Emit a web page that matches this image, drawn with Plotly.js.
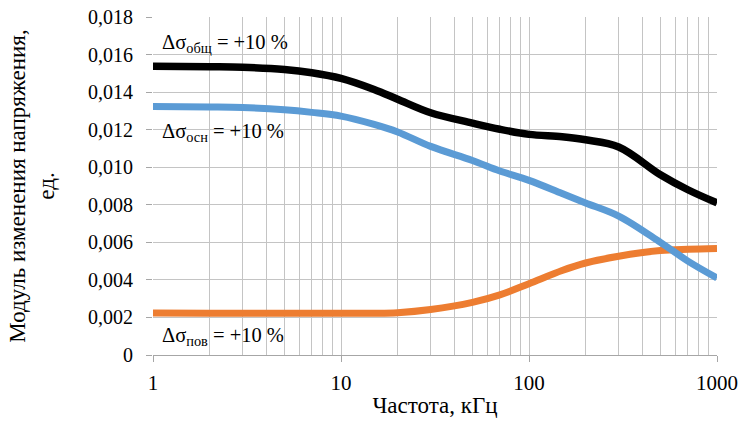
<!DOCTYPE html>
<html>
<head>
<meta charset="utf-8">
<script src="https://cdn.plot.ly/plotly-3.0.1.min.js"></script>
<style>html,body{margin:0;padding:0;background:#fff;}#chart{width:743px;height:421px;}</style>
</head>
<body>
<div id="chart"></div>
<script>
var freq = [1, 2, 3, 5, 7, 10, 15, 20, 30, 50, 70, 100, 150, 200, 300, 500, 700, 1000];
var sigmaTotal = [0.01538, 0.01535, 0.01532, 0.0152, 0.01503, 0.01473, 0.01414, 0.01362, 0.0129, 0.01235, 0.01202, 0.01175, 0.01162, 0.01146, 0.01108, 0.0096, 0.0088, 0.0081];
var sigmaBase = [0.01323, 0.01321, 0.01318, 0.01306, 0.01292, 0.01272, 0.01228, 0.01188, 0.01111, 0.01036, 0.0098, 0.0093, 0.0086, 0.0081, 0.0074, 0.0060, 0.0050, 0.0041];
var sigmaSurf = [0.00224, 0.00222, 0.00222, 0.00222, 0.00222, 0.00222, 0.00222, 0.00225, 0.00242, 0.0028, 0.0032, 0.0038, 0.0045, 0.0049, 0.00526, 0.00556, 0.00563, 0.00567];
var yTickVals = [0, 0.002, 0.004, 0.006, 0.008, 0.010, 0.012, 0.014, 0.016, 0.018];
var yTickText = ['0', '0,002', '0,004', '0,006', '0,008', '0,010', '0,012', '0,014', '0,016', '0,018'];
var xTickVals = [1, 10, 100, 1000];
var xTickText = ['1', '10', '100', '1000'];
var labels = ['Δσ<sub>общ</sub> = +10 %', 'Δσ<sub>осн</sub> = +10 %', 'Δσ<sub>пов</sub> = +10 %'];

var minorVals = [];
for (var d = 1; d <= 100; d *= 10) {
  for (var k = 2; k <= 9; k++) minorVals.push(k * d);
}

var font = 'Liberation Serif, Times New Roman, serif';
var traces = [
  {x: freq, y: sigmaSurf, mode: 'lines', line: {color: '#ed7d31', width: 7, shape: 'spline', smoothing: 1.0}},
  {x: freq, y: sigmaBase, mode: 'lines', line: {color: '#5b9bd5', width: 7, shape: 'spline', smoothing: 1.0}},
  {x: freq, y: sigmaTotal, mode: 'lines', line: {color: '#000000', width: 7.5, shape: 'spline', smoothing: 1.0}}
];
var gc = '#c4c4c4';
var annFont = {family: font, size: 20.5, color: '#000'};
var layout = {
  width: 743, height: 421,
  margin: {l: 153, r: 26, t: 17, b: 66},
  paper_bgcolor: '#fff', plot_bgcolor: '#fff',
  showlegend: false,
  font: {family: font, size: 20, color: '#000'},
  xaxis: {
    type: 'log', range: [0, 3],
    tickmode: 'array', tickvals: xTickVals, ticktext: xTickText,
    ticks: 'outside', ticklen: 6, tickcolor: '#a6a6a6', tickwidth: 1,
    ticklabelstandoff: 3,
    showgrid: true, gridcolor: gc, gridwidth: 1,
    minor: {tickmode: 'array', tickvals: minorVals, showgrid: true, gridcolor: gc, gridwidth: 1, ticks: ''},
    showline: true, linecolor: '#a6a6a6', linewidth: 1,
    zeroline: false,
    tickfont: {family: font, size: 21, color: '#000'},
    title: {text: 'Частота, кГц', font: {family: font, size: 23, color: '#000'}, standoff: 2}
  },
  yaxis: {
    range: [0, 0.018],
    tickmode: 'array', tickvals: yTickVals, ticktext: yTickText,
    ticks: 'outside', ticklen: 6, tickcolor: '#a6a6a6', tickwidth: 1,
    ticklabelstandoff: 9,
    showgrid: true, gridcolor: gc, gridwidth: 1,
    showline: false, zeroline: false,
    tickfont: {family: font, size: 20, color: '#000'},
    title: {text: 'Модуль изменения напряжения,<br>ед.', font: {family: font, size: 23, color: '#000'}, standoff: 26}
  },
  annotations: [
    {text: labels[0], xref: 'paper', yref: 'paper', x: 0.013, y: 0.923, xanchor: 'left', yanchor: 'middle', showarrow: false, font: annFont},
    {text: labels[1], xref: 'paper', yref: 'paper', x: 0.013, y: 0.657, xanchor: 'left', yanchor: 'middle', showarrow: false, font: annFont},
    {text: labels[2], xref: 'paper', yref: 'paper', x: 0.013, y: 0.056, xanchor: 'left', yanchor: 'middle', showarrow: false, font: annFont}
  ]
};
Plotly.newPlot('chart', traces, layout, {staticPlot: true, displayModeBar: false});
</script>
</body>
</html>
